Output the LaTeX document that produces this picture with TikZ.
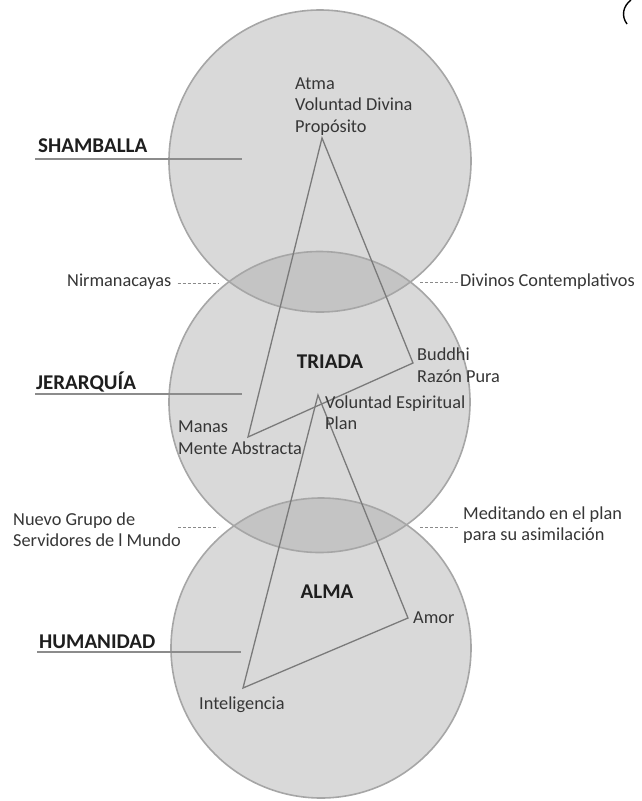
\documentclass[tikz,border=0pt]{standalone}
\usepackage{fontspec}
\setmainfont{Carlito}
\definecolor{cfill}{HTML}{D9D9D9}
\definecolor{lensfill}{HTML}{C4C4C4}
\definecolor{cline}{HTML}{A6A6A6}
\definecolor{tline}{HTML}{7A7A7A}
\definecolor{lline}{HTML}{8C8C8C}
\definecolor{dline}{HTML}{8A8A8A}
\definecolor{tcol}{HTML}{363636}
\definecolor{bcol}{HTML}{1E1E1E}
\begin{document}
\begin{tikzpicture}[x=1pt,y=-1pt,
  circline/.style={draw=cline, line width=1.6pt},
  triline/.style={draw=tline, line width=1.3pt, line join=miter},
  leader/.style={draw=lline, line width=2.2pt},
  dashline/.style={draw=dline, line width=0.9pt, dash pattern=on 3pt off 2pt},
  txt/.style={inner sep=0pt, text=tcol, font=\fontsize{18.3}{21.5}\selectfont, align=left},
  boldlbl/.style={inner sep=0pt, text=bcol, font=\fontsize{21}{25}\selectfont\bfseries},
  bracketline/.style={draw=black, line width=1.4pt},
]
\useasboundingbox (0,0) rectangle (641,801);
\fill[white] (0,0) rectangle (641,801);
% circle centres
\coordinate (c1) at (320,161);
\coordinate (c2) at (319.5,402);
\coordinate (c3) at (321,648);
% fills
\fill[cfill] (c1) circle[radius=151pt];
\fill[cfill] (c2) circle[radius=150.5pt];
\fill[cfill] (c3) circle[radius=150pt];
\begin{scope}
  \clip (c1) circle[radius=151pt];
  \fill[lensfill] (c2) circle[radius=150.5pt];
\end{scope}
\begin{scope}
  \clip (c2) circle[radius=150.5pt];
  \fill[lensfill] (c3) circle[radius=150pt];
\end{scope}
\draw[circline] (c1) circle[radius=151pt];
\draw[circline] (c2) circle[radius=150.5pt];
\draw[circline] (c3) circle[radius=150pt];
% triangle vertices
\coordinate (pA) at (322,138);
\coordinate (pM) at (248,437);
\coordinate (pB) at (413,363);
\coordinate (qV) at (318,395);
\coordinate (qI) at (243,688);
\coordinate (qA) at (408,618);
\draw[triline] (pA) -- (pM) -- (pB) -- cycle;
\draw[triline] (qV) -- (qI) -- (qA) -- cycle;
% bold labels with leader lines
\node[boldlbl, anchor=west] (shamb) at (38,146) {SHAMBALLA};
\node[boldlbl, anchor=west] (jer) at (36,382) {JERARQUÍA};
\node[boldlbl, anchor=west] (hum) at (39,642) {HUMANIDAD};
\coordinate (shambE) at (242,159);
\coordinate (jerE) at (242,394);
\coordinate (humE) at (241,652);
\draw[leader] (shamb.south west |- shambE) ++(-3,0) -- (shambE);
\draw[leader] (jer.south west |- jerE) ++(-1,0) -- (jerE);
\draw[leader] (hum.south west |- humE) ++(-2,0) -- (humE);
\node[boldlbl] (triada) at (330,362) {TRIADA};
\node[boldlbl] (alma) at (327,592) {ALMA};
% vertex labels
\node[txt, anchor=west] (atma) at (295,106.5) {Atma\\Voluntad Divina\\Propósito};
\node[txt, anchor=west] (buddhi) at (417,365) {\fontsize{18.3}{24}\selectfont Buddhi\\Razón Pura};
\node[txt, anchor=west] (volesp) at (325,412.5) {Voluntad Espiritual\\Plan};
\node[txt, anchor=west] (manas) at (178,437.5) {Manas\\Mente Abstracta};
\node[txt, anchor=west] (amor) at (413,618) {Amor};
\node[txt, anchor=west] (intel) at (199,705) {Inteligencia};
% side labels
\node[txt, anchor=west] (nir) at (67,282) {Nirmanacayas};
\node[txt, anchor=west] (div) at (460,282) {Divinos Contemplativos};
\node[txt, anchor=west] (nuevo) at (13,529.5) {\fontsize{18.3}{23}\selectfont Nuevo Grupo de\\Servidores de l Mundo};
\node[txt, anchor=west] (medit) at (463,525) {\fontsize{18.3}{24}\selectfont Meditando en el plan\\para su asimilación};
\coordinate (nirE) at (218,283);
\coordinate (divS) at (420,282);
\coordinate (nuevoS) at (178,527);
\coordinate (nuevoE) at (218,527);
\coordinate (meditS) at (420,527);
\coordinate (meditE) at (458,527);
\draw[dashline] (nir.east |- nirE) ++(6,0) -- (nirE);
\draw[dashline] (divS) -- (div.west |- divS);
\draw[dashline] (nuevoS) -- (nuevoE);
\draw[dashline] (meditS) -- (meditE);
% cropped bracket stroke at top right
\coordinate (brkA) at (631,0);
\coordinate (brkB) at (627,24);
\draw[bracketline] (brkA) .. controls (623,6) and (621,16) .. (brkB);
\end{tikzpicture}
\end{document}
